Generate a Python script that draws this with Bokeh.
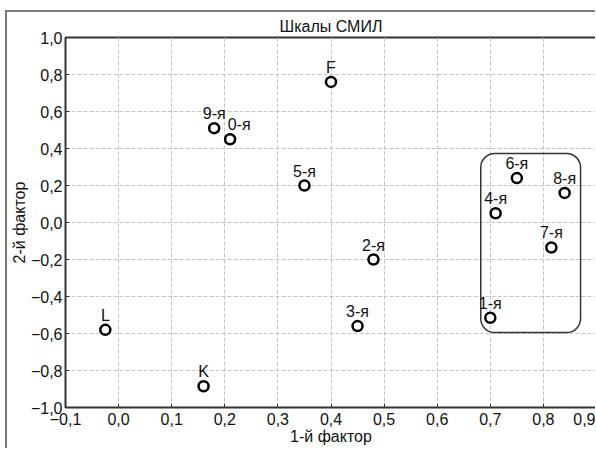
from bokeh.plotting import figure
from bokeh.models import (ColumnDataSource, FixedTicker, CustomJSTickFormatter,
                          BoxAnnotation, LabelSet)
from bokeh.core.properties import value
from bokeh.embed import file_html
from bokeh.resources import INLINE

# Factor loadings of the SMIL scales on the first two factors
scales = ["F", "9-я", "0-я", "5-я", "6-я", "8-я", "4-я", "7-я", "2-я", "3-я", "1-я", "L", "K"]
factor1 = [0.40, 0.18, 0.21, 0.35, 0.75, 0.84, 0.71, 0.815, 0.48, 0.45, 0.70, -0.025, 0.16]
factor2 = [0.76, 0.51, 0.45, 0.20, 0.24, 0.16, 0.05, -0.135, -0.20, -0.56, -0.515, -0.58, -0.885]
label_dx = [0, 0, 9, 0, 0, 0, 0, 0, 0, 0, 0, 0, 0]

x_ticks = [-0.1, 0.0, 0.1, 0.2, 0.3, 0.4, 0.5, 0.6, 0.7, 0.8, 0.9]
x_tick_labels = ["\u22120,1", "0,0", "0,1", "0,2", "0,3", "0,4", "0,5", "0,6", "0,7", "0,8", "0,9"]
y_ticks = [-1.0, -0.8, -0.6, -0.4, -0.2, 0.0, 0.2, 0.4, 0.6, 0.8, 1.0]
y_tick_labels = ["\u22121,0", "\u22120,8", "\u22120,6", "\u22120,4", "\u22120,2", "0,0",
                 "0,2", "0,4", "0,6", "0,8", "1,0"]

# Group of clinical scales outlined by a rounded box
group_left, group_right = 0.682, 0.870
group_bottom, group_top = -0.595, 0.373

FONT = "Liberation Sans"
INK = "#111111"

source = ColumnDataSource(dict(x=factor1, y=factor2, name=scales, dx=label_dx))

p = figure(width=590, height=438, x_range=(-0.1, 0.9), y_range=(-1.0, 1.0),
           output_backend="svg", toolbar_location=None,
           title="Шкалы СМИЛ",
           min_border_left=54, min_border_right=1, min_border_top=25, min_border_bottom=43)
p.margin = (10, 0, 0, 5)
p.styles = {"border-top": "2px solid #7a7a7a", "border-left": "2px solid #7a7a7a"}

p.title.align = "center"
p.title.text_font = FONT
p.title.text_font_style = "normal"
p.title.text_font_size = "16px"
p.title.text_color = INK
p.title.standoff = 6

p.outline_line_color = "#333333"
p.outline_line_width = 2
p.background_fill_color = "white"
p.border_fill_color = "white"

def fmt(labels, positions):
    return CustomJSTickFormatter(args=dict(tick_text=labels, tick_pos=positions), code="""
        let best = 0;
        for (let i = 0; i < tick_pos.length; i++) {
            if (Math.abs(tick_pos[i] - tick) < Math.abs(tick_pos[best] - tick)) best = i;
        }
        return tick_text[best];
    """)

p.xaxis.ticker = FixedTicker(ticks=x_ticks)
p.yaxis.ticker = FixedTicker(ticks=y_ticks)
p.xaxis.formatter = fmt(x_tick_labels, x_ticks)
p.yaxis.formatter = fmt(y_tick_labels, y_ticks)
p.xaxis.axis_label = "1-й фактор"
p.yaxis.axis_label = "2-й фактор"

for ax in (p.xaxis, p.yaxis):
    ax.axis_line_color = None
    ax.major_tick_in = 4
    ax.major_tick_out = 0
    ax.major_tick_line_color = "#333333"
    ax.minor_tick_line_color = None
    ax.major_label_text_font = FONT
    ax.major_label_text_font_size = "16px"
    ax.major_label_text_color = INK
    ax.axis_label_text_font = FONT
    ax.axis_label_text_font_size = "16px"
    ax.axis_label_text_font_style = "normal"
    ax.axis_label_text_color = INK
p.xaxis.major_label_standoff = 5
p.xaxis.axis_label_standoff = 0
p.yaxis.major_label_standoff = 3
p.yaxis.axis_label_standoff = 0

p.grid.grid_line_color = "#c4c4c4"
p.grid.grid_line_dash = "4 2"
p.grid.grid_line_width = 1
p.xgrid.ticker = FixedTicker(ticks=x_ticks)
p.ygrid.ticker = FixedTicker(ticks=y_ticks)

p.add_layout(BoxAnnotation(left=group_left, right=group_right,
                           bottom=group_bottom, top=group_top,
                           fill_alpha=0, line_color="#333333", line_alpha=1.0,
                           line_width=1.5, border_radius=14))

p.scatter("x", "y", source=source, marker="circle", size=10,
          fill_color="white", line_color="black", line_width=2.5)

p.add_layout(LabelSet(x="x", y="y", text="name", source=source,
                      x_offset="dx", y_offset=9,
                      text_align="center", text_baseline="alphabetic",
                      text_font=value(FONT), text_font_size="16px", text_color=INK))

open("out.html", "w").write(file_html(p, INLINE))
